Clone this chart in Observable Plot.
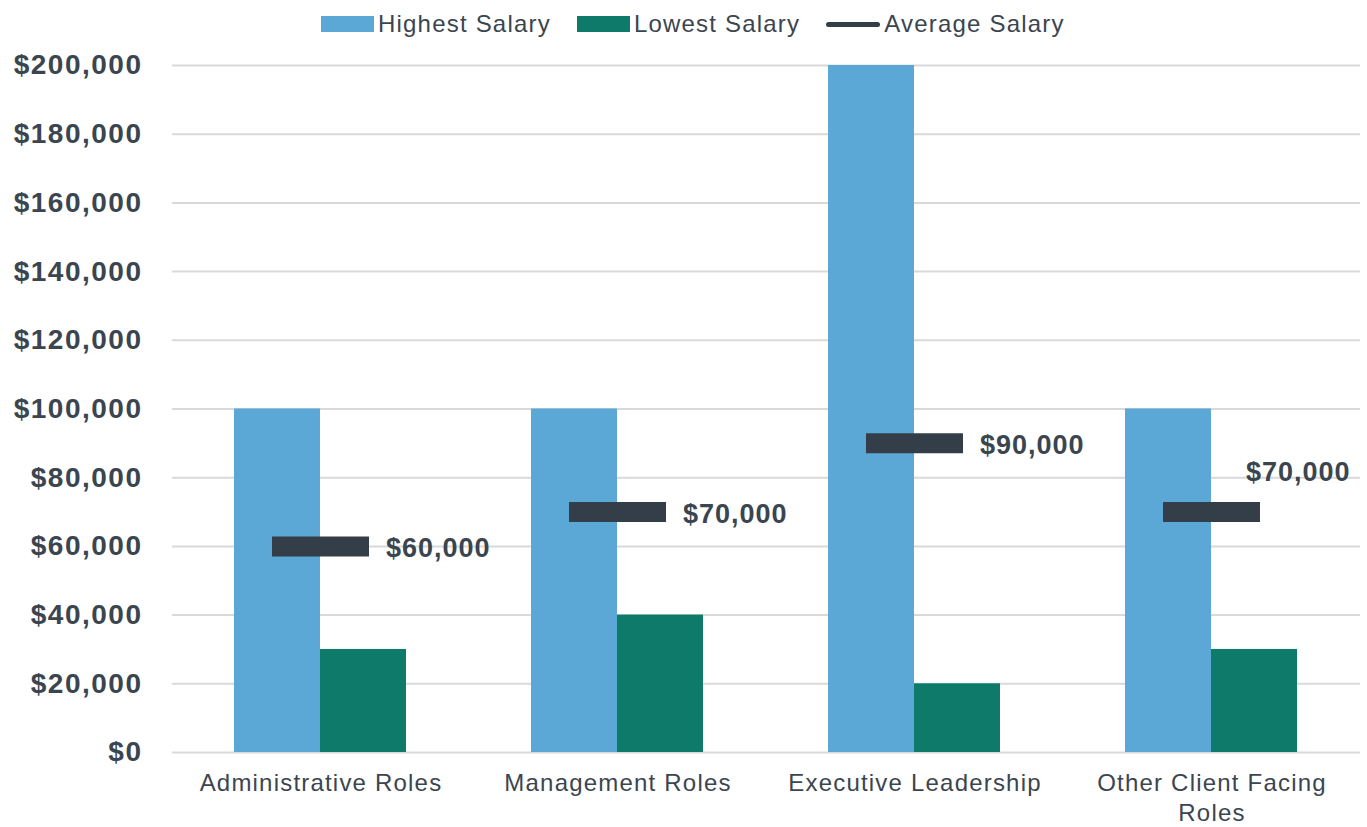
<!DOCTYPE html>
<html>
<head>
<meta charset="utf-8">
<script src="https://cdn.jsdelivr.net/npm/d3@7"></script>
<script src="https://cdn.jsdelivr.net/npm/@observablehq/plot@0.6"></script>
<style>
  body { margin: 0; background: #fff; font-family: "Liberation Sans", Arial, sans-serif; }
  #wrap { position: relative; width: 1367px; height: 827px; }
  #legend { position: absolute; left: 321px; top: 8px; height: 32px; display: flex; align-items: center; font-size: 24px; letter-spacing: 1.2px; color: #3B4550; white-space: nowrap; }
  .item { display: flex; align-items: center; margin-right: 26px; }
  .sw { width: 53px; height: 16px; margin-right: 4px; }
  .ln { width: 54px; height: 5px; border-radius: 3px; margin-right: 4px; }
  g[aria-label="y-axis tick label"] text { letter-spacing: 1.5px; }
  g[aria-label="x-axis tick label"] text { letter-spacing: 1.2px; }
  g[aria-label="text"] text { letter-spacing: 1px; }
</style>
</head>
<body>
<div id="wrap">
  <div id="chart"></div>
  <div id="legend"></div>
</div>
<script>
const categories = ["Administrative Roles", "Management Roles", "Executive Leadership", "Other Client Facing Roles"];
const xTickLabels = ["Administrative Roles", "Management Roles", "Executive Leadership", "Other Client Facing\nRoles"];
const highest = [100000, 100000, 200000, 100000];
const lowest = [30000, 40000, 20000, 30000];
const average = [60000, 70000, 90000, 70000];
const yTicks = [0, 20000, 40000, 60000, 80000, 100000, 120000, 140000, 160000, 180000, 200000];
const seriesNames = ["Highest Salary", "Lowest Salary", "Average Salary"];
const seriesColors = ["#5BA8D7", "#0E7B6A", "#343E48"];

const rows = categories.map((c, i) => ({category: c, highest: highest[i], lowest: lowest[i], average: average[i], idx: i}));
const money = d => "$" + d3.format(",")(d);

const chart = Plot.plot({
  width: 1367,
  height: 827,
  marginLeft: 172,
  marginRight: 7,
  marginTop: 65,
  marginBottom: 75,
  style: {color: "#3B4550", fontFamily: "'Liberation Sans', Arial, sans-serif", background: "transparent"},
  x: {domain: categories, padding: 0, axis: null, label: null},
  y: {domain: [0, 200000], axis: null, label: null},
  marks: [
    Plot.gridY(yTicks, {stroke: "#D9D9D9", strokeOpacity: 1, strokeWidth: 2}),
    Plot.barY(rows, {x: "category", y: "highest", fill: seriesColors[0], insetLeft: 62, insetRight: 149}),
    Plot.barY(rows, {x: "category", y: "lowest", fill: seriesColors[1], insetLeft: 148, insetRight: 63}),
    Plot.tickY(rows, {x: "category", y: "average", stroke: seriesColors[2], strokeWidth: 20, insetLeft: 100, insetRight: 100}),
    Plot.text(rows.filter(d => d.idx < 3), {x: "category", y: "average", text: d => money(d.average), textAnchor: "start", dx: 65, dy: 2, fontSize: 27, fontWeight: "bold", fill: "#3B4550"}),
    Plot.text(rows.filter(d => d.idx === 3), {x: "category", y: "average", text: d => money(d.average), textAnchor: "start", dx: 34, dy: -40, fontSize: 27, fontWeight: "bold", fill: "#3B4550"}),
    Plot.axisY(yTicks, {tickSize: 0, tickPadding: 30, tickFormat: money, fontSize: 28, fontWeight: "bold", label: null}),
    Plot.axisX({tickSize: 0, tickPadding: 17, tickFormat: d => xTickLabels[categories.indexOf(d)], fontSize: 24, lineHeight: 1.25, label: null})
  ]
});
document.getElementById("chart").appendChild(chart);

const legend = document.getElementById("legend");
seriesNames.forEach((name, i) => {
  const item = document.createElement("div");
  item.className = "item";
  const sw = document.createElement("div");
  sw.className = i < 2 ? "sw" : "ln";
  sw.style.background = seriesColors[i];
  const label = document.createElement("span");
  label.textContent = name;
  item.appendChild(sw);
  item.appendChild(label);
  legend.appendChild(item);
});
</script>
</body>
</html>
